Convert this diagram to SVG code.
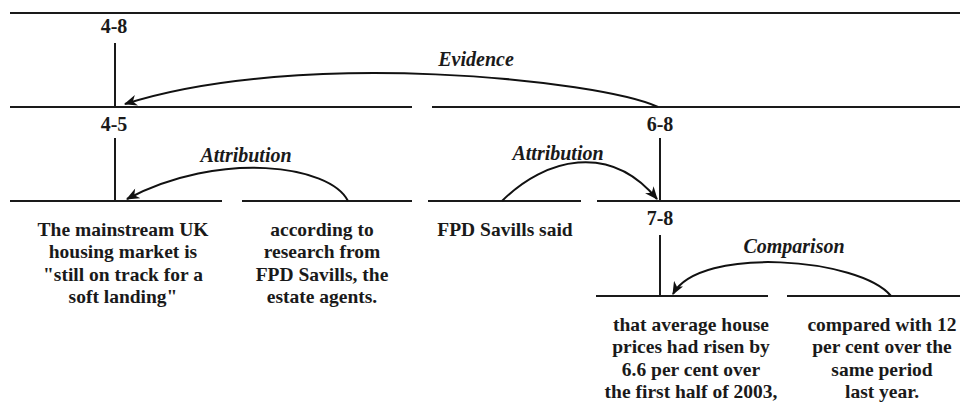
<svg xmlns="http://www.w3.org/2000/svg" width="960" height="403" viewBox="0 0 960 403">
  <style>
    .ln { stroke: #1a1a1a; stroke-width: 2; fill: none; }
    .arc { stroke: #111; stroke-width: 2; fill: none; marker-end: url(#head); }
    text { font-family: 'Liberation Serif', 'Times New Roman', serif; font-weight: bold; fill: #1a1a1a; text-anchor: middle; }
    .num { font-size: 20px; }
    .rel { font-style: italic; font-size: 20px; }
    .seg { font-size: 19.5px; }
  </style>
  <defs>
    <marker id="head" viewBox="0 0 12 10" refX="11" refY="5" markerWidth="14" markerHeight="11" markerUnits="userSpaceOnUse" orient="auto">
      <path d="M0,0 L12,5 L0,10 L3.5,5 Z" fill="#111"/>
    </marker>
  </defs>

  <!-- top rule -->
  <line class="ln" x1="10" y1="13" x2="960" y2="13"/>

  <!-- span 4-8 -->
  <g id="span-4-8">
    <text class="num" x="114" y="33">4-8</text>
    <line class="ln" x1="115" y1="43" x2="115" y2="107"/>
    <line class="ln" x1="10" y1="107" x2="412" y2="107"/>
  </g>

  <!-- span 4-5 -->
  <g id="span-4-5">
    <text class="num" x="114" y="131">4-5</text>
    <line class="ln" x1="115" y1="138" x2="115" y2="201"/>
  </g>

  <!-- span 6-8 -->
  <g id="span-6-8">
    <line class="ln" x1="432" y1="107" x2="960" y2="107"/>
    <text class="num" x="660" y="131">6-8</text>
    <line class="ln" x1="660" y1="138" x2="660" y2="201"/>
  </g>

  <!-- span 7-8 -->
  <g id="span-7-8">
    <line class="ln" x1="597" y1="201" x2="960" y2="201"/>
    <text class="num" x="660" y="225">7-8</text>
    <line class="ln" x1="660" y1="235" x2="660" y2="296"/>
  </g>

  <!-- segment 4 -->
  <g id="seg-4">
    <line class="ln" x1="10" y1="201" x2="222" y2="201"/>
    <text class="seg" x="123" y="236">The mainstream UK</text>
    <text class="seg" x="123" y="258">housing market is</text>
    <text class="seg" x="123" y="281">"still on track for a</text>
    <text class="seg" x="123" y="303">soft landing"</text>
  </g>

  <!-- segment 5 -->
  <g id="seg-5">
    <line class="ln" x1="242" y1="201" x2="412" y2="201"/>
    <text class="seg" x="322" y="236">according to</text>
    <text class="seg" x="322" y="258">research from</text>
    <text class="seg" x="322" y="281">FPD Savills, the</text>
    <text class="seg" x="322" y="303">estate agents.</text>
  </g>

  <!-- segment 6 -->
  <g id="seg-6">
    <line class="ln" x1="428" y1="201" x2="581" y2="201"/>
    <text class="seg" x="505" y="236">FPD Savills said</text>
  </g>

  <!-- segment 7 -->
  <g id="seg-7">
    <line class="ln" x1="596" y1="296" x2="768" y2="296"/>
    <text class="seg" x="691" y="331">that average house</text>
    <text class="seg" x="691" y="353">prices had risen by</text>
    <text class="seg" x="691" y="376">6.6 per cent over</text>
    <text class="seg" x="691" y="398">the first half of 2003,</text>
  </g>

  <!-- segment 8 -->
  <g id="seg-8">
    <line class="ln" x1="787" y1="296" x2="960" y2="296"/>
    <text class="seg" x="882" y="331">compared with 12</text>
    <text class="seg" x="882" y="353">per cent over the</text>
    <text class="seg" x="882" y="376">same period</text>
    <text class="seg" x="882" y="398">last year.</text>
  </g>

  <!-- relation arcs -->
  <g id="relations">
    <path class="arc" d="M658,107 C600,80 300,48 125,104"/>
    <text class="rel" x="476" y="66">Evidence</text>

    <path class="arc" d="M348,201 C330,165 220,150 127,199"/>
    <text class="rel" x="246" y="162">Attribution</text>

    <path class="arc" d="M502,201 C545,158 610,142 657,199"/>
    <text class="rel" x="558" y="160">Attribution</text>

    <path class="arc" d="M891,296 C860,258 700,245 673,294"/>
    <text class="rel" x="794" y="253">Comparison</text>
  </g>
</svg>
